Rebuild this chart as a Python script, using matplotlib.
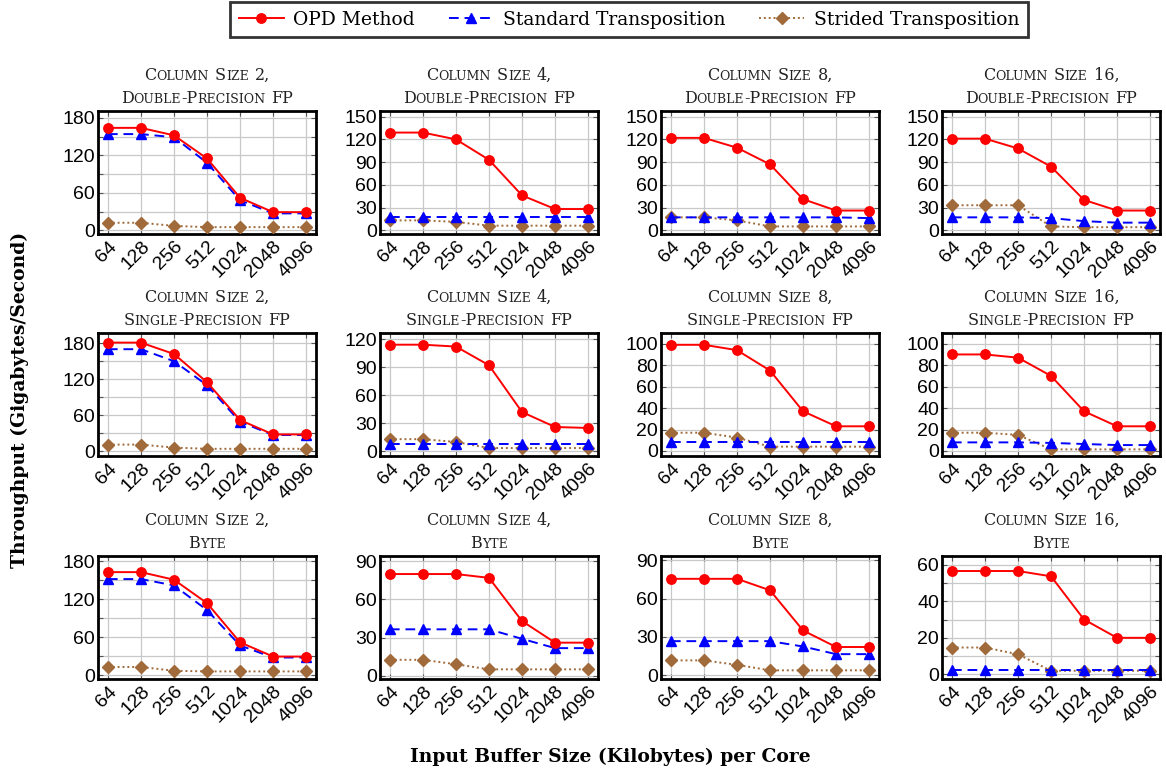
import matplotlib
matplotlib.use("Agg")
import matplotlib.pyplot as plt
from matplotlib.lines import Line2D
from matplotlib.offsetbox import TextArea, HPacker, VPacker, AnchoredOffsetbox
from matplotlib.ticker import MultipleLocator

# ---------------- data ----------------
sizes = ["64", "128", "256", "512", "1024", "2048", "4096"]
column_sizes = [2, 4, 8, 16]
precisions = ["Double-Precision FP", "Single-Precision FP", "Byte"]
series_names = ["OPD Method", "Standard Transposition", "Strided Transposition"]

# Double precision (columns 2, 4, 8, 16)
opd_dp = [[164, 164, 152, 115, 52, 29, 29],
          [129, 129, 120, 93, 46, 28, 28],
          [122, 122, 109, 87, 41, 26, 26],
          [121, 121, 108, 84, 40, 26, 26]]
std_dp = [[154, 154, 149, 108, 48, 27, 27],
          [17, 17, 17, 17, 17, 17, 17],
          [17, 17, 17, 17, 17, 17, 16],
          [17, 17, 17, 16, 12, 10, 10]]
str_dp = [[12, 12, 7, 5, 5, 5, 5],
          [13, 13, 11, 6, 6, 6, 6],
          [17, 17, 13, 5, 5, 5, 5],
          [33, 33, 33, 5, 4, 4, 4]]

# Single precision
opd_sp = [[181, 181, 162, 115, 52, 28, 28],
          [114, 114, 112, 92, 42, 26, 25],
          [99, 99, 94, 75, 37, 23, 23],
          [90, 90, 87, 70, 37, 23, 23]]
std_sp = [[170, 170, 150, 110, 49, 27, 27],
          [8, 8, 8, 8, 8, 8, 8],
          [8, 8, 8, 8, 8, 8, 8],
          [8, 8, 8, 7.5, 6.5, 5.5, 5.5]]
str_sp = [[11, 11, 6, 4, 4, 4, 4],
          [13, 13, 10, 3.5, 3.5, 3.5, 3.5],
          [17, 17, 12.5, 4, 4, 4, 4],
          [17, 17, 15, 1.5, 1.5, 1.5, 1.5]]

# Byte
opd_b = [[163, 163, 151, 114, 52, 29.5, 29.5],
         [80, 80, 80, 77, 43, 26, 26],
         [75.5, 75.5, 75.5, 66.5, 35, 22, 22],
         [56.5, 56.5, 56.5, 53.6, 30, 20, 20]]
std_b = [[152, 152, 142, 103, 47, 28, 28],
         [36.5, 36.5, 36.5, 36.5, 29, 21.7, 21.7],
         [26.6, 26.6, 26.6, 26.6, 22.4, 16.4, 16.4],
         [2.5, 2.5, 2.5, 2.5, 2.5, 2.5, 2.5]]
str_b = [[13, 13, 7, 6, 6, 6, 6],
         [12.5, 12.5, 9, 5, 5, 5, 5],
         [11.5, 11.5, 8, 3.7, 3.7, 3.7, 3.7],
         [14.7, 14.7, 11, 2, 2, 2, 2]]

# y-axis label step and limits per panel (rows x columns)
ytick_step = [[60, 30, 30, 30],
              [60, 30, 20, 20],
              [60, 30, 30, 20]]
ytick_max = [[180, 150, 150, 150],
             [180, 120, 100, 100],
             [180, 90, 90, 60]]
ylims = [[(-6, 191), (-5, 157.5), (-5, 157.5), (-5, 157.5)],
         [(-8, 197), (-5, 126.5), (-4.7, 110), (-4.7, 110)],
         [(-6, 188.5), (-2.6, 94.2), (-3.1, 93.4), (-2.5, 64.7)]]
minor_step = [[30, 30, 30, 30],
              [30, 30, 20, 20],
              [30, 30, 30, 10]]

rows = [(opd_dp, std_dp, str_dp), (opd_sp, std_sp, str_sp), (opd_b, std_b, str_b)]

# ---------------- style ----------------
RED = "#ff0000"
BLUE = "#0000ff"
BROWN = "#a06a3a"
SANS = "Liberation Sans"
SERIF = "DejaVu Serif"

fig = plt.figure(figsize=(11.66, 7.73), dpi=100)
W, H = 1166.0, 773.0
col_left = [98, 380, 661, 942]
col_w = 218
row_top = [111, 333, 556]
row_h = 123


def smallcaps(line, big=11.5, small=9.0, color="#222222"):
    words = []
    for word in line.split(" "):
        runs = []
        for ch in word:
            low = ch.islower()
            if runs and runs[-1][0] == low:
                runs[-1][1] += ch
            else:
                runs.append([low, ch])
        kids = [TextArea(s.upper() if low else s,
                         textprops=dict(fontsize=small if low else big,
                                        family=SERIF, color=color))
                for low, s in runs]
        words.append(HPacker(children=kids, align="baseline", pad=0, sep=0))
    return HPacker(children=words, align="baseline", pad=0, sep=4.5)


x = list(range(len(sizes)))
for r in range(3):
    opd_s, std_s, str_s = rows[r]
    for c in range(4):
        left = col_left[c] / W
        bottom = 1 - (row_top[r] + row_h) / H
        ax = fig.add_axes([left, bottom, col_w / W, row_h / H])
        ax.plot(x, opd_s[c], color=RED, lw=1.4, marker="o", ms=6.8,
                zorder=5, label=series_names[0])
        ax.plot(x, std_s[c], color=BLUE, lw=1.4, ls=(0, (5, 3)), marker="^",
                ms=7.2, zorder=4, label=series_names[1])
        ax.plot(x, str_s[c], color=BROWN, lw=1.4, ls=(0, (1, 1.5)), marker="D",
                ms=6.0, zorder=3, label=series_names[2])
        ax.set_xlim(-0.3, 6.3)
        ax.set_ylim(*ylims[r][c])
        ax.set_xticks(x)
        ax.set_xticklabels(sizes, rotation=45, ha="right", rotation_mode="anchor",
                           fontsize=14, family=SANS)
        ax.set_yticks(list(range(0, ytick_max[r][c] + 1, ytick_step[r][c])))
        ax.yaxis.set_minor_locator(MultipleLocator(minor_step[r][c]))
        for lab in ax.get_yticklabels():
            lab.set_fontsize(14)
            lab.set_family(SANS)
        ax.grid(True, which="both", color="#c8c8c8", lw=0.9, zorder=0)
        ax.set_axisbelow(True)
        ax.tick_params(which="both", direction="in", top=True, right=True,
                       length=3.5, width=0.8, color="#555555")
        ax.tick_params(axis="x", pad=3)
        ax.tick_params(axis="y", pad=2)
        for sp in ax.spines.values():
            sp.set_linewidth(2.0)
        title = VPacker(children=[smallcaps(f"Column Size {column_sizes[c]},"),
                                  smallcaps(precisions[r])],
                        align="center", pad=0, sep=4)
        ab = AnchoredOffsetbox(loc="lower center", child=title, frameon=False,
                               bbox_to_anchor=(0.5, 1.0), bbox_transform=ax.transAxes,
                               borderpad=0, pad=0.3)
        ax.add_artist(ab)

handles = [Line2D([], [], color=RED, lw=1.4, marker="o", ms=6.8),
           Line2D([], [], color=BLUE, lw=1.4, ls=(0, (5, 3)), marker="^", ms=7.2),
           Line2D([], [], color=BROWN, lw=1.4, ls=(0, (1, 1.5)), marker="D", ms=6.0)]
leg = fig.legend(handles, series_names, loc="upper center", ncol=3,
                 bbox_to_anchor=(629 / W, 0.997), frameon=True, fancybox=False,
                 prop=dict(family=SERIF, size=13.5), handlelength=2.4,
                 columnspacing=1.8, borderpad=0.45, handletextpad=0.5,
                 edgecolor="black", borderaxespad=0)
leg.get_frame().set_linewidth(2.0)

fig.text(20 / W, 1 - 400 / H, "Throughput (Gigabytes/Second)", rotation=90,
         ha="center", va="center", family=SERIF, fontweight="bold", fontsize=13.5)
fig.text(610 / W, 1 - 757 / H, "Input Buffer Size (Kilobytes) per Core",
         ha="center", va="center", family=SERIF, fontweight="bold", fontsize=13.5)

fig.savefig("out.png", dpi=100)
